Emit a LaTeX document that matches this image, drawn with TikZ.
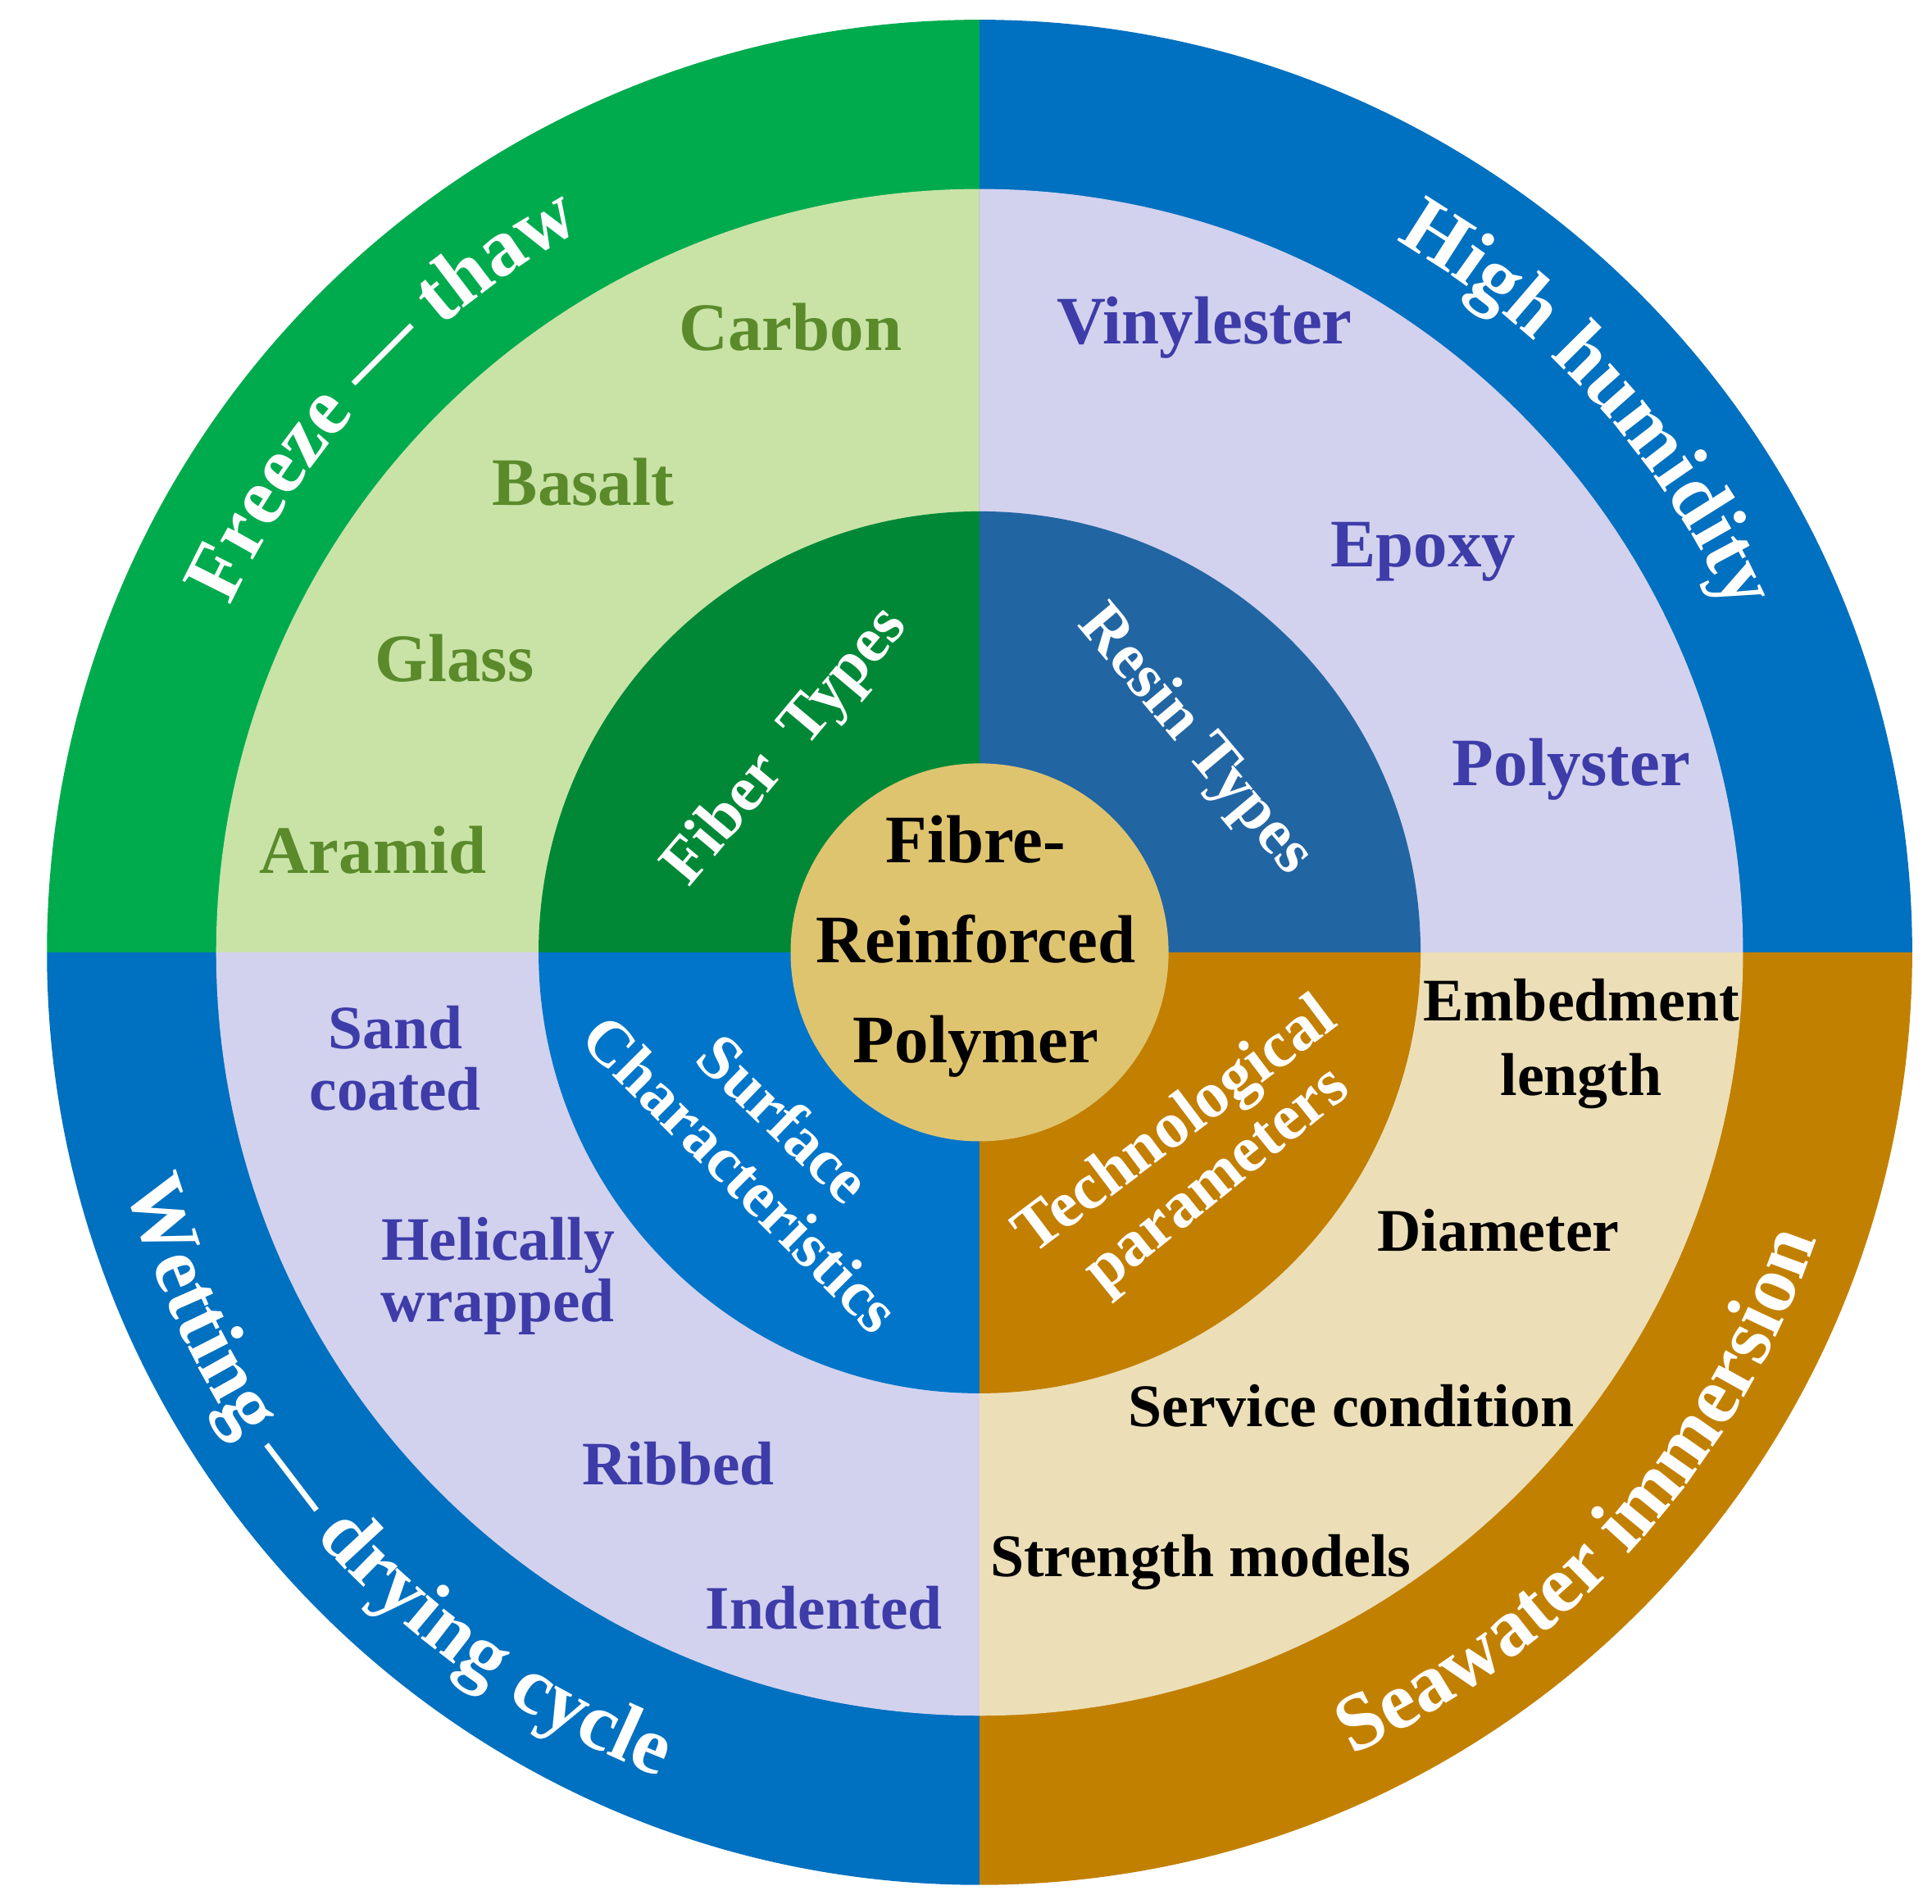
\documentclass[tikz,border=0pt]{standalone}
\usepackage{fontspec}
\setmainfont{Liberation Serif}
\usetikzlibrary{decorations.text}
\definecolor{oG}{HTML}{00AB4E}
\definecolor{oB}{HTML}{0070C0}
\definecolor{oO}{HTML}{C28000}
\definecolor{mG}{HTML}{C9E3A7}
\definecolor{mL}{HTML}{D2D2EF}
\definecolor{mY}{HTML}{ECDFB8}
\definecolor{iG}{HTML}{008837}
\definecolor{iB}{HTML}{2265A3}
\definecolor{iS}{HTML}{0075C9}
\definecolor{iO}{HTML}{C27F00}
\definecolor{cC}{HTML}{DFC470}
\definecolor{tG}{HTML}{5B8A2B}
\definecolor{tP}{HTML}{3E3CA8}
\tikzset{
  sec/.style n args={3}{insert path={(0,0) -- (#1:#3) arc[start angle=#1,end angle=#2,radius=#3] -- cycle}},
  gl/.style={font=\fontsize{55}{55}\selectfont\bfseries, text=tG},
  pl/.style={font=\fontsize{55}{52}\selectfont\bfseries, text=tP, align=center},
  bl/.style={font=\fontsize{49}{60}\selectfont\bfseries, text=black, align=center},
  wl/.style={font=\fontsize{52}{52}\selectfont\bfseries, text=white},
  cl/.style={font=\fontsize{55}{81}\selectfont\bfseries, text=black, align=center},
  arct/.style={decorate, decoration={text along path, text align=center, text={|\fontsize{66}{66}\selectfont\bfseries\color{white}|#1}}}
}
\begin{document}
\begin{tikzpicture}[x=1pt,y=1pt]
\useasboundingbox (-793,-770) rectangle (771,771);
% outer ring
\fill[oG] [sec={90}{180}{755}];
\fill[oB] [sec={0}{90}{755}];
\fill[oB] [sec={180}{270}{755}];
\fill[oO] [sec={270}{360}{755}];
% middle ring
\fill[mG] [sec={90}{180}{618}];
\fill[mL] [sec={0}{90}{618}];
\fill[mL] [sec={180}{270}{618}];
\fill[mY] [sec={270}{360}{618}];
\draw[gray!40, line width=1] (0,0) -- (0,618);
% inner ring
\fill[iG] [sec={90}{180}{357}];
\fill[iB] [sec={0}{90}{357}];
\fill[iS] [sec={180}{270}{357}];
\fill[iO] [sec={270}{360}{357}];
% center
\fill[cC] (0,0) circle[radius=153];
\node[cl] (center) at (-3,5) {Fibre-\\Reinforced\\Polymer};
% outer curved text
\path[arct={Freeze — thaw}] (197:668) arc[start angle=197,end angle=77,radius=668];
\path[arct={High humidity}] (102:668) arc[start angle=102,end angle=-18,radius=668];
\path[arct={Wetting — drying cycle}] (162:716) arc[start angle=162,end angle=282,radius=716];
\path[arct={Seawater immersion}] (-102:716) arc[start angle=-102,end angle=18,radius=716];
% inner labels
\node[wl, rotate=50] (fib) at (-156,166) {Fiber\ \ Types};
\node[wl, rotate=-50] (res) at (174,171) {Resin Types};
\node[wl, rotate=-44] (sur) at (-158,-134) {Surface};
\node[wl, rotate=-45] (cha) at (-193,-179) {Characteristics};
\node[wl, font=\fontsize{53}{53}\selectfont\bfseries, rotate=37] (tec) at (160,-142) {Technological};
\node[wl, font=\fontsize{53}{53}\selectfont\bfseries, rotate=39] (par) at (195,-188) {parameters};
% fibre labels
\node[gl] (carbon) at (-153,506) {Carbon};
\node[gl] (basalt) at (-321,381) {Basalt};
\node[gl] (glass) at (-425,238) {Glass};
\node[gl] (aramid) at (-491,83) {Aramid};
% resin labels
\node[pl] (vinyl) at (182,506) {Vinylester};
\node[pl] (epoxy) at (359,324) {Epoxy};
\node[pl] (poly) at (479,148) {Polyster};
% surface labels
\node[pl, font=\fontsize{50}{50}\selectfont\bfseries] (sand) at (-473,-86) {Sand\\coated};
\node[pl, font=\fontsize{50}{50}\selectfont\bfseries] (heli) at (-390,-262) {Helically\\wrapped};
\node[pl, font=\fontsize{50}{50}\selectfont\bfseries] (rib) at (-244,-414) {Ribbed};
\node[pl, font=\fontsize{50}{50}\selectfont\bfseries] (ind) at (-126,-531) {Indented};
% technological labels
\node[bl] (emb) at (487,-74) {Embedment\\length};
\node[bl] (dia) at (420,-225) {Diameter};
\node[bl] (ser) at (301,-367) {Service condition};
\node[bl] (str) at (179,-494) {Strength models};
\end{tikzpicture}
\end{document}
